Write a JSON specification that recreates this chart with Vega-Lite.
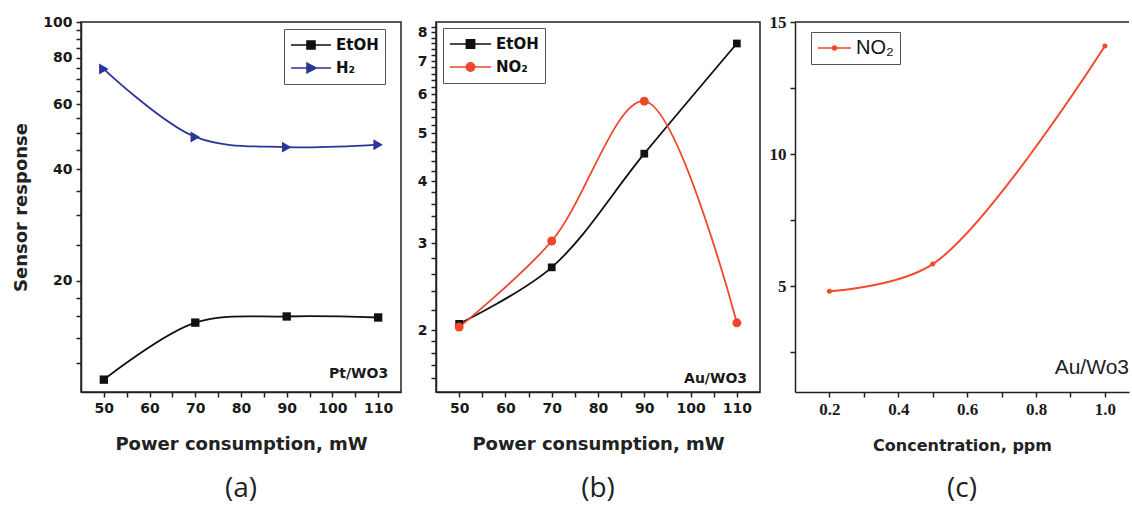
{
  "$schema": "https://vega.github.io/schema/vega-lite/v6.json",
  "background": "white",
  "padding": {"left": 12, "top": 13, "right": 0, "bottom": 0},
  "bounds": "flush",
  "spacing": 35,
  "config": {
    "view": {"stroke": "#222", "strokeWidth": 1.5},
    "axis": {
      "labelFont": "DejaVu Sans", "labelFontWeight": "bold", "labelFontSize": 14, "labelColor": "#1a1a1a",
      "titleFont": "DejaVu Sans", "titleFontWeight": "bold", "titleFontSize": 18, "titleColor": "#222",
      "domainColor": "#222", "domainWidth": 1.5, "tickColor": "#222", "tickWidth": 1.5, "tickSize": 5,
      "labelPadding": 4, "grid": false, "labelFlush": false, "labelOverlap": false
    },
    "axisX": {"titlePadding": 20},
    "title": {"orient": "bottom", "font": "Open Sans", "fontSize": 28, "fontWeight": "normal", "color": "#222", "offset": 22, "anchor": "middle"},
    "legend": {
      "title": null, "strokeColor": "#555", "fillColor": "white", "padding": 6,
      "symbolStrokeWidth": 1.6, "symbolOpacity": 1, "labelFont": "DejaVu Sans", "labelFontWeight": "bold", "labelFontSize": 15,
      "labelColor": "#111", "clipHeight": 20, "rowPadding": 3, "labelOffset": 4
    }
  },
  "resolve": {
    "scale": {"fill": "independent", "stroke": "independent", "shape": "independent"},
    "legend": {"fill": "independent", "stroke": "independent", "shape": "independent"}
  },
  "datasets": {
    "a": [
      {"x": 50, "y": 10.8, "series": "EtOH"},
      {"x": 70, "y": 15.4, "series": "EtOH"},
      {"x": 90, "y": 16.0, "series": "EtOH"},
      {"x": 110, "y": 15.9, "series": "EtOH"},
      {"x": 50, "y": 74.6, "series": "H₂"},
      {"x": 70, "y": 48.9, "series": "H₂"},
      {"x": 90, "y": 45.9, "series": "H₂"},
      {"x": 110, "y": 46.6, "series": "H₂"}
    ],
    "b": [
      {"x": 50, "y": 2.06, "series": "EtOH"},
      {"x": 70, "y": 2.68, "series": "EtOH"},
      {"x": 90, "y": 4.55, "series": "EtOH"},
      {"x": 110, "y": 7.6, "series": "EtOH"},
      {"x": 50, "y": 2.03, "series": "NO₂"},
      {"x": 70, "y": 3.03, "series": "NO₂"},
      {"x": 90, "y": 5.81, "series": "NO₂"},
      {"x": 110, "y": 2.07, "series": "NO₂"}
    ],
    "c": [
      {"x": 0.2, "y": 4.81, "series": "NO₂"},
      {"x": 0.5, "y": 5.84, "series": "NO₂"},
      {"x": 1.0, "y": 14.09, "series": "NO₂"}
    ]
  },
  "hconcat": [
    {
      "width": 320, "height": 370,
      "title": {"text": "(a)"},
      "data": {"name": "a"},
      "encoding": {
        "x": {"field": "x", "type": "quantitative", "scale": {"domain": [45, 115], "nice": false},
          "axis": {"title": "Power consumption, mW", "values": [50, 55, 60, 65, 70, 75, 80, 85, 90, 95, 100, 105, 110],
            "labelExpr": "datum.value % 10 == 0 ? datum.label : ''"}},
        "y": {"field": "y", "type": "quantitative", "scale": {"type": "log", "domain": [10, 100], "nice": false},
          "axis": {"title": "Sensor response", "titlePadding": 12,
            "values": [12, 14, 16, 18, 20, 25, 30, 35, 40, 45, 50, 55, 60, 65, 70, 75, 80, 85, 90, 95, 100],
            "labelExpr": "datum.value % 20 == 0 ? format(datum.value, 'd') : ''"}}
      },
      "layer": [
        {"transform": [{"filter": "datum.series == 'EtOH'"}],
          "mark": {"type": "line", "interpolate": "catmull-rom", "strokeWidth": 1.8, "color": "#111111"}},
        {"transform": [{"filter": "datum.series == 'H₂'"}],
          "mark": {"type": "line", "interpolate": "catmull-rom", "strokeWidth": 1.8, "color": "#2b3598"}},
        {"transform": [{"filter": "datum.series == 'EtOH'"}],
          "mark": {"type": "point", "filled": true, "opacity": 1, "shape": "square", "size": 70, "color": "#111111"}},
        {"transform": [{"filter": "datum.series == 'H₂'"}],
          "mark": {"type": "point", "filled": true, "opacity": 1, "shape": "triangle-right", "size": 120, "color": "#2b3598"}},
        {"transform": [{"filter": "false"}],
          "mark": {"type": "point", "filled": true, "opacity": 1},
          "encoding": {
            "fill": {"field": "series", "type": "nominal", "scale": {"domain": ["EtOH", "H₂"], "range": ["#111111", "#2b3598"]},
              "legend": {"orient": "none", "legendX": 203, "legendY": 7, "symbolSize": 1600}},
            "stroke": {"field": "series", "type": "nominal", "scale": {"domain": ["EtOH", "H₂"], "range": ["#111111", "#2b3598"]},
              "legend": {"orient": "none", "legendX": 203, "legendY": 7, "symbolSize": 1600}},
            "shape": {"field": "series", "type": "nominal", "scale": {"domain": ["EtOH", "H₂"],
              "range": ["M-1,0H1M-0.2,-0.2H0.2V0.2H-0.2Z", "M-1,0H1M-0.2,-0.24L0.26,0L-0.2,0.24Z"]},
              "legend": {"orient": "none", "legendX": 203, "legendY": 7, "symbolSize": 1600}}}},
        {"data": {"values": [{"x": 112.2, "y": 11.2, "label": "Pt/WO3"}]},
          "mark": {"type": "text", "align": "right", "baseline": "middle", "font": "DejaVu Sans", "fontWeight": "bold", "fontSize": 14, "color": "#1a1a1a"},
          "encoding": {"text": {"field": "label"}}}
      ]
    },
    {
      "width": 324, "height": 370,
      "title": {"text": "(b)"},
      "data": {"name": "b"},
      "encoding": {
        "x": {"field": "x", "type": "quantitative", "scale": {"domain": [45, 115], "nice": false},
          "axis": {"title": "Power consumption, mW", "values": [50, 55, 60, 65, 70, 75, 80, 85, 90, 95, 100, 105, 110],
            "labelExpr": "datum.value % 10 == 0 ? datum.label : ''"}},
        "y": {"field": "y", "type": "quantitative", "scale": {"type": "log", "domain": [1.5, 8.4], "nice": false},
          "axis": {"title": null,
            "values": [1.6, 1.7, 1.8, 1.9, 2, 2.2, 2.4, 2.6, 2.8, 3, 3.2, 3.4, 3.6, 3.8, 4, 4.2, 4.4, 4.6, 4.8, 5, 5.2, 5.4, 5.6, 5.8, 6, 6.2, 6.4, 6.6, 6.8, 7, 7.2, 7.4, 7.6, 7.8, 8, 8.2],
            "labelExpr": "datum.value % 1 == 0 ? format(datum.value, 'd') : ''"}}
      },
      "layer": [
        {"transform": [{"filter": "datum.series == 'EtOH'"}],
          "mark": {"type": "line", "interpolate": "catmull-rom", "strokeWidth": 1.8, "color": "#111111"}},
        {"transform": [{"filter": "datum.series == 'NO₂'"}],
          "mark": {"type": "line", "interpolate": "catmull-rom", "strokeWidth": 1.8, "color": "#f0462b"}},
        {"transform": [{"filter": "datum.series == 'EtOH'"}],
          "mark": {"type": "point", "filled": true, "opacity": 1, "shape": "square", "size": 60, "color": "#111111"}},
        {"transform": [{"filter": "datum.series == 'NO₂'"}],
          "mark": {"type": "point", "filled": true, "opacity": 1, "shape": "circle", "size": 80, "color": "#f0462b"}},
        {"transform": [{"filter": "false"}],
          "mark": {"type": "point", "filled": true, "opacity": 1},
          "encoding": {
            "fill": {"field": "series", "type": "nominal", "scale": {"domain": ["EtOH", "NO₂"], "range": ["#111111", "#f0462b"]},
              "legend": {"orient": "none", "legendX": 7, "legendY": 6, "symbolSize": 1700}},
            "stroke": {"field": "series", "type": "nominal", "scale": {"domain": ["EtOH", "NO₂"], "range": ["#111111", "#f0462b"]},
              "legend": {"orient": "none", "legendX": 7, "legendY": 6, "symbolSize": 1700}},
            "shape": {"field": "series", "type": "nominal", "scale": {"domain": ["EtOH", "NO₂"],
              "range": ["M-1,0H1M-0.2,-0.2H0.2V0.2H-0.2Z", "M-1,0H1M-0.2,0A0.2,0.2,0,1,0,0.2,0A0.2,0.2,0,1,0,-0.2,0Z"]},
              "legend": {"orient": "none", "legendX": 7, "legendY": 6, "symbolSize": 1700}}}},
        {"data": {"values": [{"x": 112.2, "y": 1.59, "label": "Au/WO3"}]},
          "mark": {"type": "text", "align": "right", "baseline": "middle", "font": "DejaVu Sans", "fontWeight": "bold", "fontSize": 14, "color": "#1a1a1a"},
          "encoding": {"text": {"field": "label"}}}
      ]
    },
    {
      "width": 334, "height": 370,
      "title": {"text": "(c)"},
      "view": {"stroke": null},
      "layer": [
        {"data": {"name": "c"},
          "mark": {"type": "line", "interpolate": "catmull-rom", "strokeWidth": 2, "color": "#f24a2c"},
          "encoding": {
            "x": {"field": "x", "type": "quantitative", "scale": {"domain": [0.1, 1.07], "zero": false, "nice": false},
              "axis": {"title": "Concentration, ppm", "titleFontSize": 16, "labelFont": "Liberation Sans Narrow", "labelFontSize": 17,
                "values": [0.2, 0.3, 0.4, 0.5, 0.6, 0.7, 0.8, 0.9, 1.0],
                "labelExpr": "round(datum.value * 10) % 2 == 0 ? format(datum.value, '.1f') : ''"}},
            "y": {"field": "y", "type": "quantitative", "scale": {"domain": [1, 15], "zero": false, "nice": false},
              "axis": {"title": null, "labelFont": "Liberation Sans Narrow", "labelFontSize": 17,
                "values": [2.5, 5, 7.5, 10, 12.5, 15],
                "labelExpr": "datum.value % 5 == 0 ? format(datum.value, 'd') : ''"}}}},
        {"data": {"name": "c"},
          "mark": {"type": "point", "filled": true, "opacity": 1, "shape": "circle", "size": 25, "color": "#f24a2c"},
          "encoding": {"x": {"field": "x", "type": "quantitative"}, "y": {"field": "y", "type": "quantitative"}}},
        {"data": {"name": "c"},
          "transform": [{"filter": "false"}],
          "mark": {"type": "point", "filled": true, "opacity": 1},
          "encoding": {
            "x": {"field": "x", "type": "quantitative"}, "y": {"field": "y", "type": "quantitative"},
            "fill": {"field": "series", "type": "nominal", "scale": {"domain": ["NO₂"], "range": ["#f24a2c"]},
              "legend": {"orient": "none", "legendX": 16, "legendY": 10, "symbolSize": 1100, "labelFont": "Liberation Sans", "labelFontWeight": "normal", "labelFontSize": 20}},
            "stroke": {"field": "series", "type": "nominal", "scale": {"domain": ["NO₂"], "range": ["#f24a2c"]},
              "legend": {"orient": "none", "legendX": 16, "legendY": 10, "symbolSize": 1100, "labelFont": "Liberation Sans", "labelFontWeight": "normal", "labelFontSize": 20}},
            "shape": {"field": "series", "type": "nominal", "scale": {"domain": ["NO₂"],
              "range": ["M-1,0H1M-0.12,0A0.12,0.12,0,1,0,0.12,0A0.12,0.12,0,1,0,-0.12,0Z"]},
              "legend": {"orient": "none", "legendX": 16, "legendY": 10, "symbolSize": 1100, "labelFont": "Liberation Sans", "labelFontWeight": "normal", "labelFontSize": 20}}}},
        {"data": {"values": [{"top": 15}]},
          "mark": {"type": "rule", "color": "#222", "strokeWidth": 1.5},
          "encoding": {"y": {"field": "top", "type": "quantitative"}}},
        {"data": {"values": [{"x": 1.07, "y": 1.9, "label": "Au/Wo3"}]},
          "mark": {"type": "text", "align": "right", "baseline": "middle", "font": "Liberation Sans", "fontWeight": "normal", "fontSize": 21, "color": "#222"},
          "encoding": {"x": {"field": "x", "type": "quantitative"}, "y": {"field": "y", "type": "quantitative"}, "text": {"field": "label"}}}
      ]
    }
  ]
}
